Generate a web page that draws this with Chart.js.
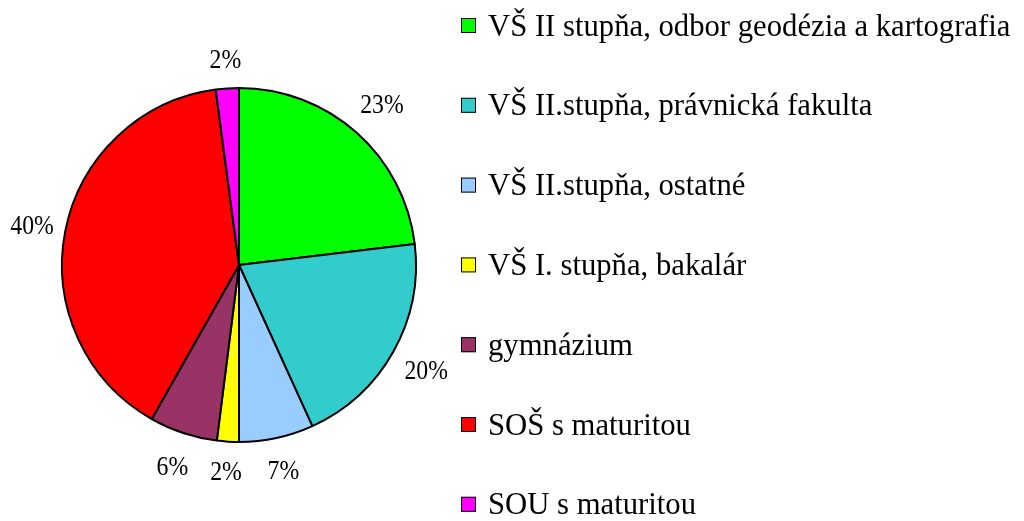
<!DOCTYPE html>
<html>
<head>
<meta charset="utf-8">
<script src="https://cdn.jsdelivr.net/npm/chart.js@4/dist/chart.umd.min.js"></script>
<style>
  body { margin: 0; background: #fff; }
  #wrap { width: 1024px; height: 521px; }
</style>
</head>
<body>
<div id="wrap"><canvas id="myChart" width="1024" height="521"></canvas></div>
<script>
// categories
const labels = [
  'VŠ II stupňa, odbor geodézia a kartografia',
  'VŠ II.stupňa, právnická fakulta',
  'VŠ II.stupňa, ostatné',
  'VŠ I. stupňa, bakalár',
  'gymnázium',
  'SOŠ s maturitou',
  'SOU s maturitou'
];
// share of each group
const values = [23.1, 20.1, 6.8, 2.0, 6.2, 39.7, 2.1];
const colors = ['#00ff00', '#33cccc', '#99ccff', '#ffff00', '#993366', '#ff0000', '#ff00ff'];

const serif = '"Liberation Serif", "Times New Roman", serif';

//Percent labels around the pie
const pctLabels = {
  id: 'pctLabels',
  afterDatasetsDraw(chart) {
    let ctx = chart.ctx;
    let meta = chart.getDatasetMeta(0);
    let total = values.reduce((a, b) => a + b, 0);
    ctx.save();
    ctx.beginPath();
    ctx.rect(0, 0, 447, chart.height);
    ctx.clip();
    ctx.font = '27px ' + serif;
    ctx.fillStyle = '#000';
    ctx.textAlign = 'center';
    ctx.textBaseline = 'alphabetic';
    meta.data.forEach((arc, i) => {
      let p = arc.getProps(['x', 'y', 'startAngle', 'endAngle', 'outerRadius'], true);
      let mid = (p.startAngle + p.endAngle) / 2;
      let txt = Math.round(values[i] / total * 100) + '%';
      let d = p.outerRadius + 6 + Math.abs(Math.cos(mid)) * 24 + Math.abs(Math.sin(mid)) * 22;
      ctx.save();
      ctx.translate(p.x + Math.cos(mid) * d, p.y + Math.sin(mid) * d);
      // the original digits are a bit narrow
      ctx.scale(0.88, 1);
      ctx.fillText(txt, 0, 9);
      ctx.restore();
    });
    ctx.restore();
  }
};

//Legend on the right
const sideLegend = {
  id: 'sideLegend',
  afterDraw(chart) {
    let ctx = chart.ctx;
    ctx.save();
    ctx.font = '30.7px ' + serif;
    ctx.textBaseline = 'alphabetic';
    ctx.textAlign = 'left';
    labels.forEach((name, i) => {
      let cy = 25.5 + i * 79.8;
      ctx.fillStyle = colors[i];
      ctx.fillRect(461, cy - 7.5, 15, 15);
      ctx.strokeStyle = '#000';
      ctx.lineWidth = 1;
      ctx.strokeRect(461.5, cy - 7, 14, 14);
      ctx.fillStyle = '#000';
      ctx.fillText(name, 488, cy + 10);
    });
    ctx.restore();
  }
};

let ctx = document.getElementById('myChart').getContext('2d');
let chart = new Chart(ctx, {
  type: 'pie',
  data: {
    labels: labels,
    datasets: [{
      data: values,
      backgroundColor: colors,
      borderColor: '#000',
      borderWidth: 2
    }]
  },
  options: {
    responsive: false,
    animation: false,
    radius: 177,
    layout: { padding: { left: 0, right: 546, top: 9, bottom: 0 } },
    events: [],
    plugins: {
      legend: { display: false },
      tooltip: { enabled: false }
    }
  },
  plugins: [pctLabels, sideLegend]
});
</script>
</body>
</html>
